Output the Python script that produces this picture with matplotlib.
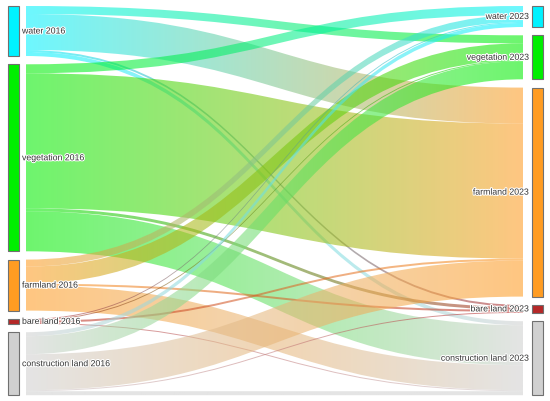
import numpy as np
import matplotlib.pyplot as plt
from matplotlib.path import Path
from matplotlib.patches import PathPatch, Rectangle
from matplotlib.colors import to_rgb
import matplotlib.patheffects as pe

land_types = ['water', 'vegetation', 'farmland', 'bare land', 'construction land']
node_colors = ['#00F2FF', '#00EE00', '#FF9C22', '#B52828', '#D0D0D0']

# area moved from each 2016 class (rows) into each 2023 class (columns)
# column order: water, vegetation, farmland, bare land, construction land
water_2016 = [0, 8, 36, 2, 4]
vegetation_2016 = [9, 0, 135, 3, 40]
farmland_2016 = [7, 17, 0, 2, 25]
bare_land_2016 = [1, 1, 2, 0, 1]
construction_land_2016 = [4, 18, 36, 1, 4]

flows = np.array([water_2016, vegetation_2016, farmland_2016,
                  bare_land_2016, construction_land_2016], dtype=float)

fig = plt.figure(figsize=(5.5, 4.01), dpi=100)
ax = fig.add_axes([0, 0, 1, 1])

# layout (pixel like units)
top, gap, k = 6, 8.3, 1.0
node_x = [8, 532]
node_w = 11
link_x0, link_x1 = 26, 523


def stack(totals):
    ys, y = [], top
    for t in totals:
        ys.append(y)
        y += t * k + gap
    return ys


out_tot = flows.sum(axis=1)
in_tot = flows.sum(axis=0)
left_y = stack(out_tot)
right_y = stack(in_tot)

src_off = list(left_y)
tgt_off = list(right_y)
xm = (link_x0 + link_x1) / 2
t = np.linspace(0, 1, 256)

for i in range(len(land_types)):
    for j in range(len(land_types)):
        v = flows[i, j]
        if v == 0:
            continue
        h = v * k
        sy, ty = src_off[i], tgt_off[j]
        src_off[i] += h
        tgt_off[j] += h
        verts = [(link_x0, sy), (xm, sy), (xm, ty), (link_x1, ty),
                 (link_x1, ty + h), (xm, ty + h), (xm, sy + h), (link_x0, sy + h),
                 (link_x0, sy)]
        codes = [Path.MOVETO, Path.CURVE4, Path.CURVE4, Path.CURVE4,
                 Path.LINETO, Path.CURVE4, Path.CURVE4, Path.CURVE4,
                 Path.CLOSEPOLY]
        patch = PathPatch(Path(verts, codes), transform=ax.transData,
                          facecolor='none', edgecolor='none')
        c0 = np.array(to_rgb(node_colors[i]))
        c1 = np.array(to_rgb(node_colors[j]))
        grad = np.zeros((1, 256, 4))
        grad[0, :, :3] = c0[None, :] * (1 - t[:, None]) + c1[None, :] * t[:, None]
        grad[0, :, 3] = 0.57
        im = ax.imshow(grad, extent=[link_x0, link_x1, min(sy, ty) - 1, max(sy, ty) + h + 1],
                       aspect='auto', interpolation='bilinear', zorder=1)
        im.set_clip_path(patch)

halo = [pe.withStroke(linewidth=1.5, foreground='white')]
for n, name in enumerate(land_types):
    for col, (ys, tots, year) in enumerate([(left_y, out_tot, '2016'), (right_y, in_tot, '2023')]):
        y0, hh = ys[n], tots[n] * k
        ax.add_patch(Rectangle((node_x[col], y0), node_w, hh, facecolor=node_colors[n],
                               edgecolor='#707070', linewidth=0.8, zorder=3))
        if col == 0:
            ax.text(node_x[0] + node_w + 3, y0 + hh / 2, f'{name} {year}', ha='left', va='center',
                    fontsize=6.3, family='Liberation Sans', color='#333333', zorder=4,
                    path_effects=halo)
        else:
            ax.text(node_x[1] - 3, y0 + hh / 2, f'{name} {year}', ha='right', va='center',
                    fontsize=6.3, family='Liberation Sans', color='#333333', zorder=4,
                    path_effects=halo)

ax.set_xlim(0, 550)
ax.set_ylim(401, 0)
ax.axis('off')
fig.savefig('out.png', dpi=100)
